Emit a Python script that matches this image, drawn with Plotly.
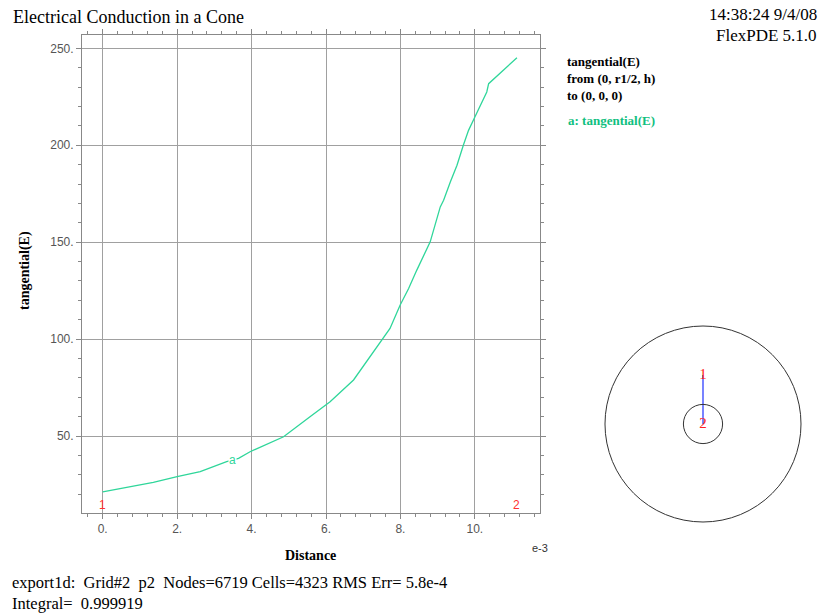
import plotly.graph_objects as go

W, H = 820, 614

# tangential(E) sampled along the line from (0, r1/2, h) to (0, 0, 0); distance in units of 1e-3
distance = [0.0, 1.36, 2.0, 2.62, 3.33, 3.65, 3.96, 4.86, 5.57, 6.0, 6.11, 6.74,
            7.50, 7.72, 7.99, 8.22, 8.44, 8.80, 9.07, 9.16, 9.34, 9.52, 9.69,
            9.83, 10.0, 10.10, 10.28, 10.32, 10.37, 10.77, 11.13]
tangential_E = [21.2, 26.1, 29.0, 31.6, 36.8, 38.5, 41.9, 49.6, 59.9, 66.0, 67.7, 78.9,
                99.5, 105.5, 117.5, 126.1, 135.6, 150.2, 168.2, 171.6, 181.1, 189.7, 200.0,
                207.7, 214.6, 218.9, 226.6, 227.5, 231.8, 239.0, 245.2]

x_ticks = [0, 2, 4, 6, 8, 10]
x_tick_labels = ["0.", "2.", "4.", "6.", "8.", "10."]
y_ticks = [50, 100, 150, 200, 250]
y_tick_labels = ["50.", "100.", "150.", "200.", "250."]

# geometry of the cross-section inset (outer radius r1 = 1)
r1 = 1.0
r_inner = 0.2
cut_start = (0.0, r1 / 2)
cut_end = (0.0, 0.0)

LINE = "#2fd69a"
LABEL = "#10c080"
SERIF = "Liberation Serif, Times New Roman, serif"
SANS = "Liberation Sans, Arial, sans-serif"
GRID = "#a0a0a0"


def px(x):
    return x / W


def py(y):
    return 1 - y / H


fig = go.Figure()

fig.add_trace(go.Scatter(x=distance, y=tangential_E, mode="lines",
                         line=dict(color=LINE, width=1.3),
                         xaxis="x", yaxis="y", hoverinfo="skip"))

# inset: cross-section with the sampling line
fig.add_trace(go.Scatter(x=[cut_start[0], cut_end[0]], y=[cut_start[1], cut_end[1]],
                         mode="lines", line=dict(color="#3040ff", width=1.3),
                         xaxis="x2", yaxis="y2", hoverinfo="skip"))
fig.add_trace(go.Scatter(x=[cut_start[0], cut_end[0]], y=[cut_start[1], cut_end[1]],
                         mode="text", text=["1", "2"],
                         textfont=dict(color="#ff2020", size=15, family=SERIF),
                         textposition="middle center",
                         xaxis="x2", yaxis="y2", hoverinfo="skip"))
for r in (r1, r_inner):
    fig.add_shape(type="circle", xref="x2", yref="y2", x0=-r, x1=r, y0=-r, y1=r,
                  line=dict(color="#333333", width=1))

axis_common = dict(showline=True, linecolor="#888888", linewidth=1, mirror="ticks",
                   ticks="outside", ticklen=5, tickcolor="#888888",
                   showgrid=True, gridcolor=GRID, gridwidth=1, zeroline=False,
                   tickfont=dict(family=SANS, size=12, color="#555555"))

fig.update_layout(
    width=W, height=H,
    margin=dict(l=0, r=0, t=0, b=0),
    paper_bgcolor="white", plot_bgcolor="white",
    showlegend=False,
    xaxis=dict(domain=[px(82), px(540)], anchor="y", range=[-0.556, 11.75],
               tickvals=x_ticks, ticktext=x_tick_labels,
               minor=dict(dtick=0.4, tick0=0, ticks="outside", ticklen=3,
                          tickcolor="#888888", showgrid=False),
               **axis_common),
    yaxis=dict(domain=[py(513), py(35)], anchor="x", range=[10.28, 256.9],
               tickvals=y_ticks, ticktext=y_tick_labels,
               minor=dict(dtick=10, tick0=0, ticks="outside", ticklen=3,
                          tickcolor="#888888", showgrid=False),
               **axis_common),
    xaxis2=dict(domain=[px(590), px(816)], anchor="y2", range=[-1.153, 1.153],
                visible=False),
    yaxis2=dict(domain=[py(532), py(316)], anchor="x2", range=[-1.102, 1.102],
                visible=False),
)

annotations = [
    dict(text="Electrical Conduction in a Cone", x=px(11), y=py(17), xanchor="left",
         yanchor="middle", font=dict(family=SERIF, size=18, color="black")),
    dict(text="14:38:24 9/4/08", x=px(818), y=py(25), xanchor="right",
         yanchor="bottom", borderpad=0,
         font=dict(family=SERIF, size=17, color="black")),
    dict(text="FlexPDE 5.1.0", x=px(818), y=py(25), xanchor="right",
         yanchor="top", borderpad=0,
         font=dict(family=SERIF, size=17, color="black")),
    dict(text="<b>tangential(E)</b><br><b>from (0, r1/2, h)</b><br><b>to (0, 0, 0)</b>",
         x=px(566), y=py(53), xanchor="left", yanchor="top", align="left",
         borderpad=0, font=dict(family=SERIF, size=13, color="black")),
    dict(text="<b>a: tangential(E)</b>", x=px(566), y=py(121), xanchor="left",
         yanchor="middle", font=dict(family=SERIF, size=13, color=LABEL)),
    dict(text="<b>tangential(E)</b>", x=px(25), y=py(271), textangle=-90,
         xanchor="center", yanchor="middle",
         font=dict(family=SERIF, size=14, color="black")),
    dict(text="<b>Distance</b>", x=px(310), y=py(555), xanchor="center",
         yanchor="middle", font=dict(family=SERIF, size=14, color="black")),
    dict(text="e-3", x=px(550), y=py(548), xanchor="right", yanchor="middle",
         font=dict(family=SANS, size=11, color="#333333")),
    dict(text="export1d:\u00a0 Grid#2\u00a0 p2\u00a0 Nodes=6719 Cells=4323 RMS Err= 5.8e-4",
         x=px(11), y=py(592.5), xanchor="left", yanchor="bottom", borderpad=0,
         font=dict(family=SERIF, size=16.5, color="black")),
    dict(text="Integral=\u00a0 0.999919", x=px(11), y=py(592.5), xanchor="left",
         yanchor="top", borderpad=0,
         font=dict(family=SERIF, size=16.5, color="black")),
]
for a in annotations:
    a.update(xref="paper", yref="paper", showarrow=False)
    fig.add_annotation(**a)

# curve label and end-point markers on the main plot
fig.add_annotation(text="a", x=3.49, y=37.6, xref="x", yref="y", showarrow=False,
                   bgcolor="white", borderpad=0,
                   font=dict(family=SANS, size=12, color=LINE))
for lbl, xv in (("1", distance[0]), ("2", distance[-1])):
    fig.add_annotation(text=lbl, x=xv, y=py(514), xref="x", yref="paper",
                       xanchor="center", yanchor="bottom", showarrow=False,
                       font=dict(family=SANS, size=12, color="#ff3030"))

fig.write_html("out.html")
